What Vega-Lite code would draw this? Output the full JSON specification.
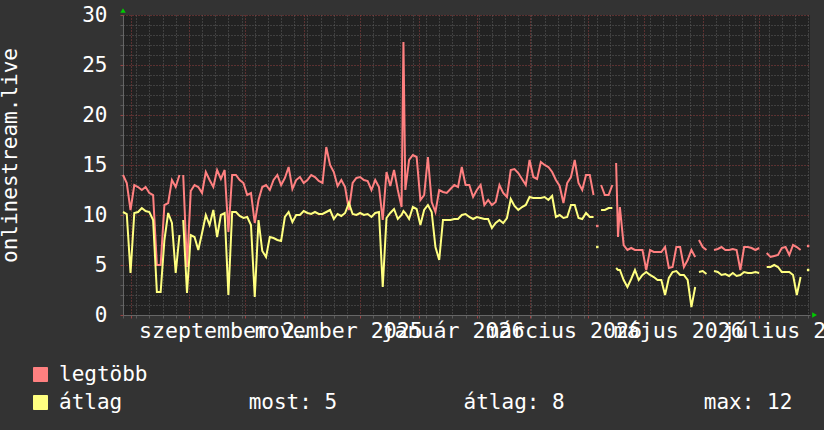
{
  "$schema": "https://vega.github.io/schema/vega-lite/v6.json",
  "width": 687,
  "height": 300,
  "autosize": {"type": "none"},
  "padding": {"left": 123, "top": 15, "right": 14, "bottom": 115},
  "background": "#333333",
  "config": {"view": {"stroke": null, "fill": "#222222"}},
  "resolve": {"axis": {"x": "independent", "y": "independent"}},
  "layer": [
    {
      "data": {"values": [
        {"t":"2025-07-28","legtöbb":14.0,"átlag":10.3},
        {"t":"2025-07-30","legtöbb":13.2,"átlag":10.1},
        {"t":"2025-08-01","legtöbb":10.5,"átlag":4.2},
        {"t":"2025-08-03","legtöbb":13.0,"átlag":10.2},
        {"t":"2025-08-05","legtöbb":12.8,"átlag":10.3},
        {"t":"2025-08-07","legtöbb":12.5,"átlag":10.7},
        {"t":"2025-08-09","legtöbb":12.8,"átlag":10.4},
        {"t":"2025-08-11","legtöbb":12.2,"átlag":10.3},
        {"t":"2025-08-13","legtöbb":12.0,"átlag":9.5},
        {"t":"2025-08-15","legtöbb":5.0,"átlag":2.3},
        {"t":"2025-08-17","legtöbb":5.0,"átlag":2.3},
        {"t":"2025-08-19","legtöbb":11.0,"átlag":7.5},
        {"t":"2025-08-21","legtöbb":11.2,"átlag":10.2},
        {"t":"2025-08-23","legtöbb":13.5,"átlag":9.2},
        {"t":"2025-08-25","legtöbb":12.8,"átlag":4.2},
        {"t":"2025-08-27","legtöbb":14.0,"átlag":8.0},
        {"t":"2025-08-28","legtöbb":null,"átlag":null},
        {"t":"2025-08-29","legtöbb":14.0,"átlag":9.5},
        {"t":"2025-08-31","legtöbb":4.8,"átlag":2.2},
        {"t":"2025-09-02","legtöbb":12.4,"átlag":8.0},
        {"t":"2025-09-04","legtöbb":13.0,"átlag":7.8},
        {"t":"2025-09-06","legtöbb":12.8,"átlag":6.5},
        {"t":"2025-09-08","legtöbb":12.2,"átlag":8.2},
        {"t":"2025-09-10","legtöbb":14.3,"átlag":10.0},
        {"t":"2025-09-12","legtöbb":13.5,"átlag":9.0},
        {"t":"2025-09-14","legtöbb":12.8,"átlag":10.5},
        {"t":"2025-09-16","legtöbb":14.5,"átlag":7.8},
        {"t":"2025-09-18","legtöbb":13.6,"átlag":10.0},
        {"t":"2025-09-20","legtöbb":14.5,"átlag":10.2},
        {"t":"2025-09-22","legtöbb":8.3,"átlag":2.0},
        {"t":"2025-09-24","legtöbb":14.0,"átlag":10.3},
        {"t":"2025-09-26","legtöbb":14.0,"átlag":10.3},
        {"t":"2025-09-28","legtöbb":13.5,"átlag":9.9},
        {"t":"2025-09-30","legtöbb":13.2,"átlag":9.7},
        {"t":"2025-10-02","legtöbb":12.0,"átlag":9.8},
        {"t":"2025-10-04","legtöbb":12.2,"átlag":9.0},
        {"t":"2025-10-06","legtöbb":9.2,"átlag":1.8},
        {"t":"2025-10-08","legtöbb":11.5,"átlag":9.5},
        {"t":"2025-10-10","legtöbb":12.8,"átlag":6.4},
        {"t":"2025-10-12","legtöbb":13.0,"átlag":5.8},
        {"t":"2025-10-14","legtöbb":12.5,"átlag":7.8},
        {"t":"2025-10-16","legtöbb":13.5,"átlag":7.7},
        {"t":"2025-10-18","legtöbb":14.0,"átlag":7.5},
        {"t":"2025-10-20","legtöbb":13.0,"átlag":7.4},
        {"t":"2025-10-22","legtöbb":13.7,"átlag":9.8},
        {"t":"2025-10-24","legtöbb":14.8,"átlag":10.3},
        {"t":"2025-10-26","legtöbb":12.6,"átlag":9.3},
        {"t":"2025-10-28","legtöbb":13.5,"átlag":10.0},
        {"t":"2025-10-30","legtöbb":13.8,"átlag":10.0},
        {"t":"2025-11-01","legtöbb":13.2,"átlag":10.4},
        {"t":"2025-11-03","legtöbb":13.5,"átlag":10.2},
        {"t":"2025-11-05","legtöbb":14.0,"átlag":10.1},
        {"t":"2025-11-07","legtöbb":13.8,"átlag":10.3},
        {"t":"2025-11-09","legtöbb":13.4,"átlag":10.1},
        {"t":"2025-11-11","legtöbb":13.2,"átlag":10.1},
        {"t":"2025-11-13","legtöbb":16.8,"átlag":10.3},
        {"t":"2025-11-15","legtöbb":15.0,"átlag":10.5},
        {"t":"2025-11-17","legtöbb":14.3,"átlag":9.6},
        {"t":"2025-11-19","legtöbb":12.9,"átlag":10.1},
        {"t":"2025-11-21","legtöbb":13.5,"átlag":9.9},
        {"t":"2025-11-23","legtöbb":12.8,"átlag":10.2},
        {"t":"2025-11-25","legtöbb":10.5,"átlag":11.2},
        {"t":"2025-11-27","legtöbb":13.2,"átlag":10.1},
        {"t":"2025-11-29","legtöbb":13.7,"átlag":10.0},
        {"t":"2025-12-01","legtöbb":13.8,"átlag":10.2},
        {"t":"2025-12-03","legtöbb":13.5,"átlag":10.0},
        {"t":"2025-12-05","legtöbb":13.4,"átlag":10.1},
        {"t":"2025-12-07","legtöbb":12.5,"átlag":9.8},
        {"t":"2025-12-09","legtöbb":13.5,"átlag":10.2},
        {"t":"2025-12-11","legtöbb":12.8,"átlag":10.3},
        {"t":"2025-12-13","legtöbb":9.5,"átlag":2.8},
        {"t":"2025-12-15","legtöbb":14.3,"átlag":9.7},
        {"t":"2025-12-17","legtöbb":12.9,"átlag":10.2},
        {"t":"2025-12-19","legtöbb":14.5,"átlag":10.6},
        {"t":"2025-12-21","legtöbb":12.5,"átlag":9.6},
        {"t":"2025-12-23","legtöbb":10.8,"átlag":10.0},
        {"t":"2025-12-24","legtöbb":27.3,"átlag":10.4},
        {"t":"2025-12-25","legtöbb":12.5,"átlag":10.2},
        {"t":"2025-12-27","legtöbb":15.5,"átlag":9.6},
        {"t":"2025-12-29","legtöbb":16.0,"átlag":10.8},
        {"t":"2025-12-31","legtöbb":15.8,"átlag":10.6},
        {"t":"2026-01-02","legtöbb":11.5,"átlag":9.0},
        {"t":"2026-01-04","legtöbb":12.0,"átlag":10.5},
        {"t":"2026-01-06","legtöbb":15.8,"átlag":11.0},
        {"t":"2026-01-08","legtöbb":11.3,"átlag":10.3},
        {"t":"2026-01-10","legtöbb":10.3,"átlag":6.8},
        {"t":"2026-01-12","legtöbb":12.5,"átlag":5.5},
        {"t":"2026-01-14","legtöbb":12.3,"átlag":9.5},
        {"t":"2026-01-16","legtöbb":12.2,"átlag":9.5},
        {"t":"2026-01-18","legtöbb":12.6,"átlag":9.5},
        {"t":"2026-01-20","legtöbb":13.0,"átlag":9.6},
        {"t":"2026-01-22","legtöbb":12.8,"átlag":9.6},
        {"t":"2026-01-24","legtöbb":14.8,"átlag":10.0},
        {"t":"2026-01-26","legtöbb":13.0,"átlag":10.1},
        {"t":"2026-01-28","legtöbb":13.0,"átlag":9.8},
        {"t":"2026-01-30","legtöbb":11.8,"átlag":9.6},
        {"t":"2026-02-01","legtöbb":12.5,"átlag":9.8},
        {"t":"2026-02-03","legtöbb":13.0,"átlag":9.7},
        {"t":"2026-02-05","legtöbb":11.0,"átlag":9.6},
        {"t":"2026-02-07","legtöbb":11.5,"átlag":9.6},
        {"t":"2026-02-09","legtöbb":11.0,"átlag":8.7},
        {"t":"2026-02-11","legtöbb":11.3,"átlag":9.2},
        {"t":"2026-02-13","legtöbb":13.0,"átlag":9.5},
        {"t":"2026-02-15","legtöbb":12.2,"átlag":9.2},
        {"t":"2026-02-17","legtöbb":11.8,"átlag":9.7},
        {"t":"2026-02-19","legtöbb":14.5,"átlag":11.6},
        {"t":"2026-02-21","legtöbb":14.6,"átlag":10.9},
        {"t":"2026-02-23","legtöbb":14.2,"átlag":10.5},
        {"t":"2026-02-25","legtöbb":13.6,"átlag":10.8},
        {"t":"2026-02-27","legtöbb":13.0,"átlag":11.0},
        {"t":"2026-03-01","legtöbb":15.5,"átlag":11.8},
        {"t":"2026-03-03","legtöbb":13.8,"átlag":11.7},
        {"t":"2026-03-05","legtöbb":13.6,"átlag":11.7},
        {"t":"2026-03-07","legtöbb":15.3,"átlag":11.7},
        {"t":"2026-03-09","legtöbb":15.0,"átlag":11.8},
        {"t":"2026-03-11","legtöbb":14.8,"átlag":11.5},
        {"t":"2026-03-13","legtöbb":14.3,"átlag":11.9},
        {"t":"2026-03-15","legtöbb":13.5,"átlag":9.8},
        {"t":"2026-03-17","legtöbb":12.9,"átlag":10.0},
        {"t":"2026-03-19","legtöbb":11.2,"átlag":9.7},
        {"t":"2026-03-21","legtöbb":13.2,"átlag":9.8},
        {"t":"2026-03-23","legtöbb":13.8,"átlag":11.0},
        {"t":"2026-03-25","legtöbb":15.5,"átlag":11.0},
        {"t":"2026-03-27","legtöbb":13.2,"átlag":9.7},
        {"t":"2026-03-29","legtöbb":12.5,"átlag":9.6},
        {"t":"2026-03-31","legtöbb":14.0,"átlag":10.2},
        {"t":"2026-04-02","legtöbb":14.0,"átlag":9.8},
        {"t":"2026-04-04","legtöbb":12.0,"átlag":9.8},
        {"t":"2026-04-06","legtöbb":null,"átlag":null},
        {"t":"2026-04-08","legtöbb":13.0,"átlag":10.5},
        {"t":"2026-04-10","legtöbb":12.0,"átlag":10.5},
        {"t":"2026-04-12","legtöbb":12.0,"átlag":10.7},
        {"t":"2026-04-14","legtöbb":13.0,"átlag":10.7},
        {"t":"2026-04-15","legtöbb":null,"átlag":null},
        {"t":"2026-04-16","legtöbb":15.2,"átlag":4.7},
        {"t":"2026-04-17","legtöbb":7.8,"átlag":4.5},
        {"t":"2026-04-18","legtöbb":10.8,"átlag":4.5},
        {"t":"2026-04-20","legtöbb":7.0,"átlag":3.5},
        {"t":"2026-04-22","legtöbb":6.5,"átlag":2.8},
        {"t":"2026-04-24","legtöbb":6.7,"átlag":3.6},
        {"t":"2026-04-26","legtöbb":6.5,"átlag":4.5},
        {"t":"2026-04-28","legtöbb":6.5,"átlag":3.5},
        {"t":"2026-04-30","legtöbb":6.5,"átlag":4.0},
        {"t":"2026-05-02","legtöbb":4.5,"átlag":4.3},
        {"t":"2026-05-04","legtöbb":6.5,"átlag":4.0},
        {"t":"2026-05-06","legtöbb":6.3,"átlag":3.8},
        {"t":"2026-05-08","legtöbb":6.3,"átlag":3.5},
        {"t":"2026-05-10","legtöbb":6.3,"átlag":3.5},
        {"t":"2026-05-12","legtöbb":6.8,"átlag":2.0},
        {"t":"2026-05-14","legtöbb":4.7,"átlag":3.7},
        {"t":"2026-05-16","legtöbb":4.8,"átlag":4.3},
        {"t":"2026-05-18","legtöbb":6.8,"átlag":4.4},
        {"t":"2026-05-20","legtöbb":6.8,"átlag":4.0},
        {"t":"2026-05-22","legtöbb":4.8,"átlag":4.0},
        {"t":"2026-05-24","legtöbb":5.5,"átlag":3.5},
        {"t":"2026-05-26","legtöbb":6.5,"átlag":0.8},
        {"t":"2026-05-28","legtöbb":5.8,"átlag":2.8},
        {"t":"2026-05-29","legtöbb":null,"átlag":null},
        {"t":"2026-05-30","legtöbb":7.5,"átlag":4.3},
        {"t":"2026-06-01","legtöbb":6.8,"átlag":4.4},
        {"t":"2026-06-03","legtöbb":6.5,"átlag":4.1},
        {"t":"2026-06-05","legtöbb":null,"átlag":null},
        {"t":"2026-06-07","legtöbb":6.5,"átlag":4.4},
        {"t":"2026-06-09","legtöbb":6.6,"átlag":4.3},
        {"t":"2026-06-11","legtöbb":6.8,"átlag":4.0},
        {"t":"2026-06-13","legtöbb":6.5,"átlag":4.1},
        {"t":"2026-06-15","legtöbb":6.5,"átlag":3.9},
        {"t":"2026-06-17","legtöbb":6.6,"átlag":4.2},
        {"t":"2026-06-19","legtöbb":6.5,"átlag":3.9},
        {"t":"2026-06-21","legtöbb":4.5,"átlag":4.0},
        {"t":"2026-06-23","legtöbb":6.8,"átlag":4.3},
        {"t":"2026-06-25","legtöbb":6.8,"átlag":4.2},
        {"t":"2026-06-27","legtöbb":6.7,"átlag":4.2},
        {"t":"2026-06-29","legtöbb":6.5,"átlag":4.3},
        {"t":"2026-07-01","legtöbb":6.7,"átlag":4.2},
        {"t":"2026-07-03","legtöbb":null,"átlag":null},
        {"t":"2026-07-05","legtöbb":6.2,"átlag":4.8},
        {"t":"2026-07-07","legtöbb":5.8,"átlag":4.8},
        {"t":"2026-07-09","legtöbb":5.9,"átlag":5.0},
        {"t":"2026-07-11","legtöbb":6.0,"átlag":4.8},
        {"t":"2026-07-13","legtöbb":6.7,"átlag":4.3},
        {"t":"2026-07-15","legtöbb":6.8,"átlag":4.3},
        {"t":"2026-07-17","legtöbb":6.0,"átlag":4.3},
        {"t":"2026-07-19","legtöbb":7.0,"átlag":4.0},
        {"t":"2026-07-21","legtöbb":6.8,"átlag":2.0},
        {"t":"2026-07-23","legtöbb":6.5,"átlag":3.8},
        {"t":"2026-07-25","legtöbb":null,"átlag":null},
        {"t":"2026-07-27","legtöbb":6.9,"átlag":4.5}
      ]},
      "transform": [{"fold": ["legtöbb", "átlag"], "as": ["sor", "ertek"]}],
      "mark": {"type": "line", "strokeWidth": 2, "interpolate": "linear"},
      "encoding": {
        "x": {
          "field": "t", "type": "temporal",
          "scale": {"domain": [{"year": 2025, "month": 7, "date": 28}, {"year": 2026, "month": 7, "date": 28}]},
          "axis": {
            "orient": "bottom",
            "title": null,
            "values": [
              {"year":2025,"month":7,"date":28},{"year":2025,"month":8,"date":1},{"year":2025,"month":8,"date":4},{"year":2025,"month":8,"date":11},{"year":2025,"month":8,"date":18},{"year":2025,"month":8,"date":25},
              {"year":2025,"month":9,"date":1},{"year":2025,"month":9,"date":8},{"year":2025,"month":9,"date":15},{"year":2025,"month":9,"date":22},{"year":2025,"month":9,"date":29},
              {"year":2025,"month":10,"date":1},{"year":2025,"month":10,"date":6},{"year":2025,"month":10,"date":13},{"year":2025,"month":10,"date":20},{"year":2025,"month":10,"date":27},
              {"year":2025,"month":11,"date":1},{"year":2025,"month":11,"date":3},{"year":2025,"month":11,"date":10},{"year":2025,"month":11,"date":17},{"year":2025,"month":11,"date":24},
              {"year":2025,"month":12,"date":1},{"year":2025,"month":12,"date":8},{"year":2025,"month":12,"date":15},{"year":2025,"month":12,"date":22},{"year":2025,"month":12,"date":29},
              {"year":2026,"month":1,"date":1},{"year":2026,"month":1,"date":5},{"year":2026,"month":1,"date":12},{"year":2026,"month":1,"date":19},{"year":2026,"month":1,"date":26},
              {"year":2026,"month":2,"date":1},{"year":2026,"month":2,"date":2},{"year":2026,"month":2,"date":9},{"year":2026,"month":2,"date":16},{"year":2026,"month":2,"date":23},
              {"year":2026,"month":3,"date":1},{"year":2026,"month":3,"date":2},{"year":2026,"month":3,"date":9},{"year":2026,"month":3,"date":16},{"year":2026,"month":3,"date":23},{"year":2026,"month":3,"date":30},
              {"year":2026,"month":4,"date":1},{"year":2026,"month":4,"date":6},{"year":2026,"month":4,"date":13},{"year":2026,"month":4,"date":20},{"year":2026,"month":4,"date":27},
              {"year":2026,"month":5,"date":1},{"year":2026,"month":5,"date":4},{"year":2026,"month":5,"date":11},{"year":2026,"month":5,"date":18},{"year":2026,"month":5,"date":25},
              {"year":2026,"month":6,"date":1},{"year":2026,"month":6,"date":8},{"year":2026,"month":6,"date":15},{"year":2026,"month":6,"date":22},{"year":2026,"month":6,"date":29},
              {"year":2026,"month":7,"date":1},{"year":2026,"month":7,"date":6},{"year":2026,"month":7,"date":13},{"year":2026,"month":7,"date":20},{"year":2026,"month":7,"date":27}
            ],
            "labelExpr": "date(datum.value) === 1 && month(datum.value) % 2 === 0 ? ['január','február','március','április','május','június','július','augusztus','szeptember','október','november','december'][month(datum.value)] + ' ' + year(datum.value) : ''",
            "labelOffset": 34,
            "labelOverlap": false,
            "labelFlush": false,
            "labelBound": false,
            "labelFont": "DejaVu Sans Mono",
            "labelFontSize": 21.6,
            "labelColor": "#ffffff",
            "labelBaseline": "alphabetic",
            "labelAlign": "center",
            "labelPadding": 19,
            "ticks": true,
            "tickSize": 3,
            "tickColor": {"condition": {"test": "date(datum.value) === 1", "value": "#9a4242"}, "value": "#5a5a5a"},
            "grid": true,
            "gridColor": {"condition": {"test": "date(datum.value) === 1", "value": "#964040"}, "value": "#5e5e5e"},
            "gridDash": [1, 2],
            "gridWidth": 1,
            "domain": true,
            "domainColor": "#666666"
          }
        },
        "y": {
          "field": "ertek", "type": "quantitative",
          "scale": {"domain": [0, 30], "nice": false, "zero": true},
          "axis": {
            "orient": "left",
            "title": "onlinestream.live",
            "titleFont": "DejaVu Sans Mono",
            "titleFontSize": 21,
            "titleFontWeight": "normal",
            "titleColor": "#ffffff",
            "titleAngle": -90,
            "titleX": -113,
            "titleY": 140,
            "titleAlign": "center",
            "titleBaseline": "middle",
            "values": [0,1,2,3,4,5,6,7,8,9,10,11,12,13,14,15,16,17,18,19,20,21,22,23,24,25,26,27,28,29,30],
            "labelExpr": "datum.value % 5 === 0 ? datum.label : ''",
            "labelFont": "DejaVu Sans Mono",
            "labelFontSize": 21,
            "labelColor": "#ffffff",
            "labelBaseline": "middle",
            "labelPadding": 13,
            "labelOverlap": false,
            "labelFlush": false,
            "ticks": true,
            "tickSize": 3,
            "tickColor": {"condition": {"test": "datum.value % 5 === 0", "value": "#9a4242"}, "value": "#5a5a5a"},
            "grid": true,
            "gridColor": {"condition": {"test": "datum.value % 5 === 0", "value": "#964040"}, "value": "#5e5e5e"},
            "gridDash": [1, 2],
            "gridWidth": 1,
            "domain": true,
            "domainColor": "#666666"
          }
        },
        "color": {
          "field": "sor", "type": "nominal",
          "scale": {"domain": ["legtöbb", "átlag"], "range": ["#ff8080", "#ffff80"]},
          "legend": {
            "orient": "none",
            "legendX": -93,
            "legendY": 349,
            "direction": "vertical",
            "title": null,
            "symbolType": "square",
            "symbolSize": 196,
            "labelFont": "DejaVu Sans Mono",
            "labelFontSize": 21,
            "labelColor": "#ffffff",
            "labelLimit": 1000,
            "labelOffset": 8,
            "rowPadding": 6,
            "labelExpr": "datum.label === 'átlag' ? 'átlag\u00a0\u00a0\u00a0\u00a0\u00a0\u00a0\u00a0\u00a0\u00a0\u00a0most: 5\u00a0\u00a0\u00a0\u00a0\u00a0\u00a0\u00a0\u00a0\u00a0\u00a0átlag: 8\u00a0\u00a0\u00a0\u00a0\u00a0\u00a0\u00a0\u00a0\u00a0\u00a0\u00a0max: 12' : datum.label",
            "encode": {"symbols": {"update": {"fill": {"scale": "color", "field": "value"}, "stroke": {"value": "#000000"}, "strokeWidth": {"value": 1}, "opacity": {"value": 1}}}}
          }
        }
      }
    },
    {
      "data": {"values": [{"t": "2026-04-06", "ertek": 8.9}, {"t": "2026-07-27", "ertek": 6.9}]},
      "mark": {"type": "square", "filled": true, "color": "#ff8080", "size": 6, "opacity": 1},
      "encoding": {
        "x": {"field": "t", "type": "temporal", "axis": null},
        "y": {"field": "ertek", "type": "quantitative", "axis": null}
      }
    },
    {
      "data": {"values": [{"t": "2026-04-06", "ertek": 6.8}, {"t": "2026-07-27", "ertek": 4.5}]},
      "mark": {"type": "square", "filled": true, "color": "#ffff80", "size": 6, "opacity": 1},
      "encoding": {
        "x": {"field": "t", "type": "temporal", "axis": null},
        "y": {"field": "ertek", "type": "quantitative", "axis": null}
      }
    },
    {
      "data": {"values": [{}]},
      "mark": {"type": "point", "shape": "triangle-up", "filled": true, "color": "#00cc00", "size": 30, "opacity": 1},
      "encoding": {
        "x": {"datum": {"year": 2025, "month": 7, "date": 28}, "type": "temporal", "axis": null},
        "y": {"datum": 30.45, "type": "quantitative", "axis": null}
      }
    },
    {
      "data": {"values": [{}]},
      "mark": {"type": "point", "shape": "triangle-right", "filled": true, "color": "#00cc00", "size": 30, "opacity": 1},
      "encoding": {
        "x": {"datum": {"year": 2026, "month": 7, "date": 30, "hours": 10}, "type": "temporal", "axis": null},
        "y": {"datum": 0, "type": "quantitative", "axis": null}
      }
    }
  ]
}
